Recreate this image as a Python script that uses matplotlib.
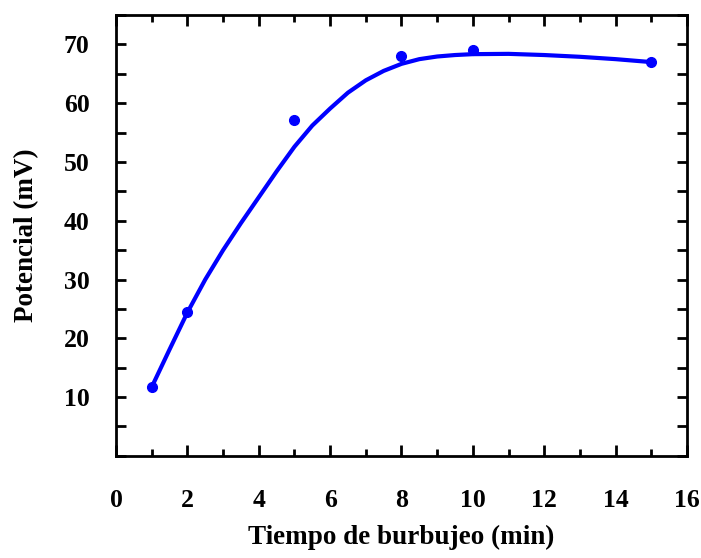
import numpy as np
import matplotlib.pyplot as plt

# measured points
tiempo = [1, 2, 5, 8, 10, 15]
potencial = [11.7, 24.4, 57.2, 68.0, 69.0, 67.0]

# fitted curve
curva_x = [1.0, 1.5, 2.0, 2.5, 3.0, 3.5, 4.0, 4.5, 5.0, 5.5, 6.0, 6.5, 7.0,
           7.5, 8.0, 8.5, 9.0, 9.5, 10.0, 11.0, 12.0, 13.0, 14.0, 15.0]
curva_y = [11.7, 18.1, 24.4, 30.0, 35.0, 39.6, 44.0, 48.4, 52.6, 56.2, 59.1, 61.8, 63.9,
           65.5, 66.7, 67.5, 67.95, 68.2, 68.35, 68.4, 68.2, 67.9, 67.5, 67.0]

plt.rcParams['font.family'] = ['Liberation Serif', 'DejaVu Serif']
plt.rcParams['font.weight'] = 'bold'

fig = plt.figure(figsize=(7.01, 5.58), dpi=100)
ax = fig.add_axes([0.1655, 0.183, 0.8145, 0.790])

ax.plot(curva_x, curva_y, color='blue', lw=3, solid_joinstyle='round')
ax.plot(tiempo, potencial, 'o', color='blue', ms=7)

ax.set_xlim(0, 16)
ax.set_ylim(0, 75)
ax.set_xticks(np.arange(0, 17, 2))
ax.set_xticks(np.arange(1, 16, 2), minor=True)
ax.set_yticks(np.arange(0, 76, 5))
ax.set_yticklabels(['' if (v == 0 or v % 10) else str(v) for v in range(0, 76, 5)])

ax.tick_params(which='both', direction='in', top=True, right=True, width=2, labelsize=18.5)
ax.tick_params(axis='x', which='major', length=8, pad=24)
ax.tick_params(axis='x', which='minor', length=5)
ax.tick_params(axis='y', length=7, pad=19)
for s in ax.spines.values():
    s.set_linewidth(2)

ax.set_xlabel('Tiempo de burbujeo (min)', fontsize=19.5, fontweight='bold', labelpad=9)
ax.set_ylabel('Potencial (mV)', fontsize=19.5, fontweight='bold', labelpad=18)

plt.savefig('out.png', dpi=100)
